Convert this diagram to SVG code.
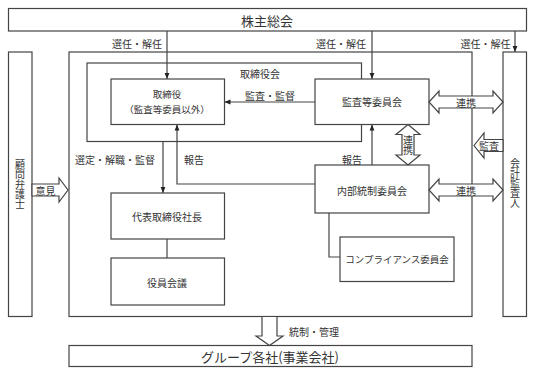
<svg xmlns="http://www.w3.org/2000/svg" width="533" height="376" viewBox="0 0 533 376">
<defs>
<marker id="ah" viewBox="0 0 10 10" refX="10" refY="5" markerWidth="6" markerHeight="6" orient="auto-start-reverse" markerUnits="userSpaceOnUse"><path d="M0,1 L10,5 L0,9 z" fill="#222"/></marker>
</defs>
<style>
.box{fill:#fff;stroke:#444;stroke-width:1.2}
.frame{fill:none;stroke:#444;stroke-width:1.2}
.ln{fill:none;stroke:#444;stroke-width:1.2}
.ar{marker-end:url(#ah)}
.blk{fill:#fff;stroke:#444;stroke-width:1.2;stroke-linejoin:miter}
text{font-family:"Noto Sans CJK JP","Noto Sans CJK SC",sans-serif;fill:#333;font-size:10px;text-anchor:middle;dominant-baseline:central}
.big{font-size:13px}
.sm{font-size:9.5px}
.two{font-size:9.5px}
.vt{writing-mode:vertical-rl}
</style>
<rect width="533" height="376" fill="#fff"/>

<g id="frames">
<rect id="company-frame" class="frame" x="69" y="52" width="403" height="264.5"/>
<g id="board">
<rect class="frame" x="87" y="63" width="274.5" height="78.5"/>
<text x="260" y="73">取締役会</text>
</g>
</g>

<g id="connectors">
<path class="ln ar" d="M167,31 V79"/>
<path class="ln ar" d="M372,31 V79"/>
<path class="ln ar" d="M515,31 V52"/>
<path class="ln ar" d="M315,102 H224.5"/>
<path class="ln ar" d="M163,141.5 V193"/>
<path class="ln ar" d="M315,184 H177 V124.5"/>
<path class="ln ar" d="M372,165 V124.5"/>
<path class="ln" d="M167,239 V258"/>
<path class="ln" d="M329,213 V257 H340"/>
<text x="137" y="43.5">選任・解任</text>
<text x="341" y="43.5">選任・解任</text>
<text x="485.5" y="43.5">選任・解任</text>
<text x="270" y="95">監査・監督</text>
<text x="115" y="159">選定・解職・監督</text>
<text x="194" y="159">報告</text>
<text x="352" y="159">報告</text>
<text x="314" y="331">統制・管理</text>
</g>

<g id="shareholders">
<rect class="box" x="8.5" y="8.5" width="518" height="22.5"/>
<text class="big" x="267" y="20">株主総会</text>
</g>
<g id="lawyer">
<rect class="box" x="8.5" y="52" width="23.5" height="264.5"/>
<text class="vt" x="20" y="184">顧問弁護士</text>
</g>
<g id="auditor">
<rect class="box" x="503" y="52" width="23.5" height="264.5"/>
<text class="vt" x="515" y="183">会計監査人</text>
</g>
<g id="directors">
<rect class="box" x="111" y="79" width="113.5" height="45.5"/>
<text class="two" x="167" y="94">取締役</text>
<text class="two" x="167" y="109">（監査等委員以外）</text>
</g>
<g id="audit-committee">
<rect class="box" x="315" y="79" width="114" height="45.5"/>
<text x="372" y="101">監査等委員会</text>
</g>
<g id="internal-control">
<rect class="box" x="315" y="165" width="114" height="48"/>
<text x="372" y="190">内部統制委員会</text>
</g>
<g id="president">
<rect class="box" x="111" y="193" width="113.5" height="46"/>
<text x="167" y="216">代表取締役社長</text>
</g>
<g id="executive-meeting">
<rect class="box" x="111" y="258" width="113.5" height="47"/>
<text x="167" y="282">役員会議</text>
</g>
<g id="compliance">
<rect class="box" x="340" y="237" width="114" height="44.5"/>
<text class="sm" x="397" y="259">コンプライアンス委員会</text>
</g>
<g id="group-companies">
<rect class="box" x="69" y="345.5" width="403" height="21"/>
<text class="big" x="270" y="356">グループ各社(事業会社)</text>
</g>

<g id="block-arrows">
<g id="link1">
<polygon class="blk" points="429,102 439,91 439,96 493,96 493,91 503,102 493,113 493,108 439,108 439,113"/>
<text x="466" y="102">連携</text>
</g>
<g id="link2">
<polygon class="blk" points="429,190 439,179 439,184 493,184 493,179 503,190 493,201 493,196 439,196 439,201"/>
<text x="466" y="190">連携</text>
</g>
<g id="link3">
<polygon class="blk" points="408,124.5 420,134.5 414,134.5 414,155 420,155 408,165 396,155 402,155 402,134.5 396,134.5"/>
<text class="vt" x="408" y="145.5">連携</text>
</g>
<g id="audit-arrow">
<polygon class="blk" points="474,145.5 484,133 484,139.5 503,139.5 503,151.5 484,151.5 484,158"/>
<text x="489" y="145.5">監査</text>
</g>
<g id="opinion-arrow">
<polygon class="blk" points="32,184 59,184 59,178 68,190 59,202 59,196 32,196"/>
<text x="45.5" y="190">意見</text>
</g>
<g id="control-arrow">
<polygon class="blk" points="262,316.5 277,316.5 277,336 283,336 269.5,345.5 256,336 262,336"/>
</g>
</g>
</svg>
